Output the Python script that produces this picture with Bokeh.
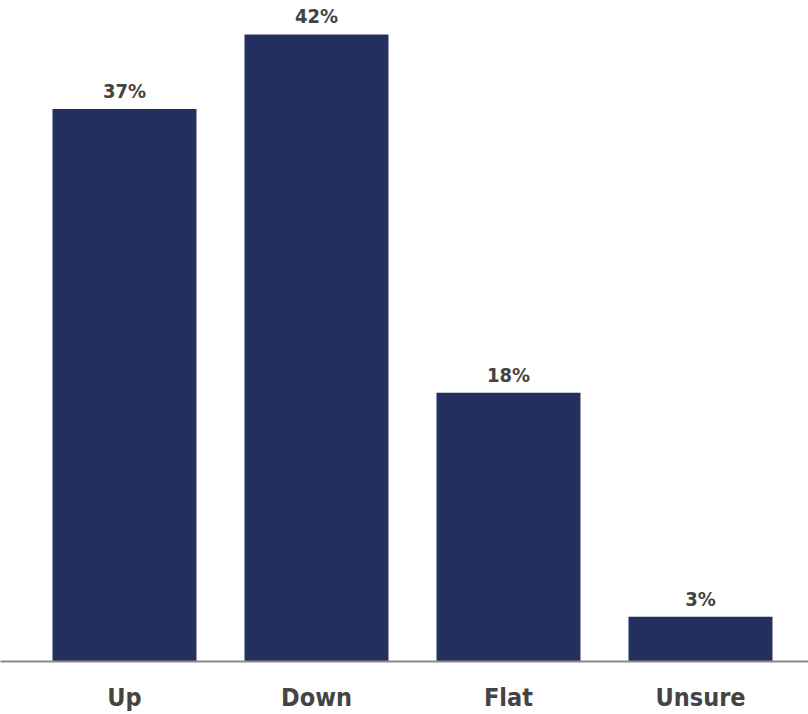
from bokeh.plotting import figure
from bokeh.models import ColumnDataSource, LabelSet, Range1d, FixedTicker
from bokeh.core.properties import value
from bokeh.embed import file_html
from bokeh.resources import INLINE

categories = ["Up", "Down", "Flat", "Unsure"]
values = [37, 42, 18, 3]
value_labels = ["37%", "42%", "18%", "3%"]

BAR_COLOR = "#23305f"
TEXT_COLOR = "#444444"
FONT = "DejaVu Sans Condensed"

xs = [i + 0.5 for i in range(len(categories))]
src = ColumnDataSource(dict(x=xs, top=values, cat=categories, lab=value_labels))

p = figure(width=808, height=714, output_backend="svg", toolbar_location=None,
           x_range=Range1d(-0.1458, 4.0625), y_range=Range1d(0, 44.27),
           y_axis_location=None,
           min_border_left=0, min_border_right=0, min_border_top=0, min_border_bottom=0)
p.outline_line_color = None
p.grid.visible = False
p.background_fill_color = "white"
p.border_fill_color = "white"

p.vbar(x="x", top="top", bottom=0, width=0.75, source=src, fill_color=BAR_COLOR, line_color=None)

ax = p.xaxis[0]
ax.ticker = FixedTicker(ticks=xs)
ax.major_label_overrides = {x: c for x, c in zip(xs, categories)}
ax.axis_line_color = "#888888"
ax.axis_line_width = 2
ax.major_tick_line_color = None
ax.minor_tick_line_color = None
ax.major_label_standoff = 15
ax.major_label_text_font = FONT
ax.major_label_text_font_style = "bold"
ax.major_label_text_font_size = "25px"
ax.major_label_text_color = TEXT_COLOR

p.add_layout(LabelSet(x="x", y="top", text="lab", source=src, y_offset=11,
                      text_align="center", text_baseline="alphabetic",
                      text_font=value(FONT), text_font_style="bold", text_font_size="20px",
                      text_color=TEXT_COLOR))

open("out.html", "w").write(file_html(p, INLINE))
